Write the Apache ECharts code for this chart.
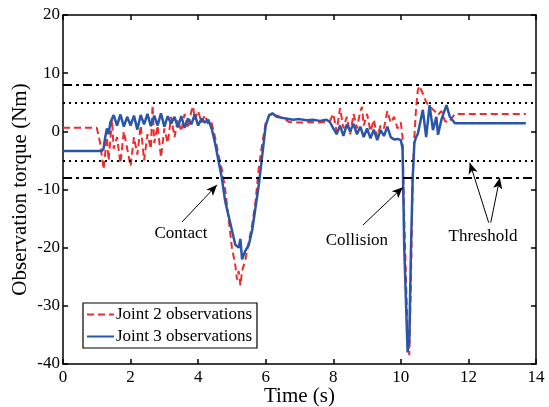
<!DOCTYPE html>
<html>
<head>
<meta charset="utf-8">
<script src="https://cdn.jsdelivr.net/npm/echarts@6/dist/echarts.min.js"></script>
<style>html,body{margin:0;padding:0;background:#fff}#c{width:549px;height:407px}</style>
</head>
<body>
<div id="c"></div>
<script>
// Joint 3 observations (blue, solid)
var j3Time = [0,1.15,1.2,1.25,1.3,1.35,1.4,1.5,1.6,1.7,1.8,1.9,2.0,2.1,2.2,2.3,2.4,2.5,2.6,2.7,2.8,2.9,3.0,3.1,3.2,3.3,3.4,3.5,3.6,3.7,3.8,3.9,4.0,4.1,4.2,4.3,4.4,4.5,4.6,4.7,4.8,4.9,5.0,5.1,5.2,5.25,5.3,5.4,5.5,5.6,5.7,5.8,5.9,6.0,6.1,6.2,6.3,6.4,6.6,6.8,7.0,7.2,7.4,7.6,7.8,7.9,8.0,8.1,8.2,8.3,8.4,8.5,8.6,8.7,8.8,8.9,9.0,9.1,9.2,9.3,9.4,9.5,9.6,9.7,9.8,9.9,10.0,10.05,10.1,10.2,10.25,10.3,10.35,10.4,10.45,10.5,10.65,10.75,10.85,10.95,11.05,11.1,11.2,11.35,11.45,11.6,13.7];
var j3Value = [-3.4,-3.4,-3.0,-1.0,0.5,-0.5,1.5,2.8,1.0,2.9,0.8,2.5,1.0,2.7,0.3,2.8,1.2,3.0,0.9,2.7,1.0,3.1,0.8,2.6,1.3,2.5,0.7,2.6,0.6,2.2,1.2,2.9,1.0,2.2,1.5,2.0,0.5,-2.0,-5.0,-8.0,-12.0,-14.5,-17.0,-19.5,-20.0,-18.5,-22.0,-20.5,-19.5,-17.0,-13.0,-9.0,-4.0,1.0,2.8,3.1,2.6,2.4,2.2,2.0,2.1,1.9,2.0,1.8,2.0,1.6,0.5,-0.5,1.0,-0.8,1.2,0.0,1.3,-0.5,0.8,-1.0,0.5,-1.2,0.3,-1.5,0.2,-0.8,0.8,-1.0,-1.4,-1.3,-1.5,-3.0,-20.0,-38.0,-36.0,-20.0,-8.0,-2.0,-1.0,-0.5,3.7,-1.0,4.5,0.2,2.5,-0.6,2.0,4.5,2.5,1.4,1.4];

// Joint 2 observations (red, dashed)
var j2Time = [0,1.0,1.1,1.2,1.3,1.35,1.45,1.5,1.6,1.7,1.8,1.9,2.0,2.1,2.2,2.3,2.4,2.5,2.6,2.65,2.7,2.8,2.9,3.0,3.1,3.2,3.3,3.4,3.5,3.6,3.7,3.8,3.85,3.9,4.0,4.1,4.2,4.3,4.4,4.5,4.6,4.7,4.8,4.9,5.0,5.1,5.15,5.2,5.25,5.3,5.4,5.5,5.6,5.7,5.8,5.9,6.0,6.1,6.2,6.3,6.5,6.7,7.0,7.3,7.6,7.9,8.0,8.1,8.2,8.3,8.4,8.5,8.6,8.7,8.8,8.85,8.9,9.0,9.1,9.2,9.3,9.4,9.5,9.6,9.7,9.8,9.9,10.0,10.05,10.1,10.2,10.25,10.3,10.35,10.4,10.45,10.5,10.55,10.65,10.75,10.9,11.0,11.1,11.2,11.3,11.4,11.5,11.6,13.7];
var j2Value = [0.6,0.6,-2.0,-6.5,-1.0,-5.0,2.0,-3.0,-1.0,-5.5,0.0,-3.0,-6.0,-1.0,-4.0,1.0,-5.0,-0.5,-3.0,4.5,-2.0,1.0,-4.5,0.5,-2.0,2.5,-1.0,2.0,0.0,3.0,0.5,3.5,4.3,2.0,3.5,1.5,2.8,1.2,1.5,-1.0,-4.0,-6.5,-10.0,-15.0,-20.0,-23.0,-25.5,-24.0,-26.5,-24.0,-22.0,-19.0,-16.0,-12.0,-6.0,-2.0,1.5,2.7,3.0,2.8,2.3,1.6,1.5,1.6,1.5,1.8,3.0,0.0,4.0,0.5,2.5,-0.5,3.0,0.5,3.5,4.2,1.0,3.0,0.0,2.0,-1.0,1.0,0.5,3.5,1.5,2.5,0.5,1.5,-1.0,-15.0,-35.0,-38.5,-25.0,-8.0,-1.0,4.0,7.0,7.8,6.5,5.0,4.0,3.5,2.8,3.5,1.8,1.5,2.2,3.0,3.0];

var collisionThreshold = [8, -8];
var contactThreshold = [5, -5];
var xTicks = [0, 14, 2];
var yTicks = [-40, 20, 10];

var annotations = [
  {text: 'Contact', at: [3.49, -17.6], arrows: [[[3.52, -15.6], [4.56, -9.2]]]},
  {text: 'Collision', at: [8.70, -18.7], arrows: [[[8.88, -16.1], [10.06, -9.6]]]},
  {text: 'Threshold', at: [12.43, -18.0], arrows: [[[12.60, -15.7], [12.04, -5.4]], [[12.66, -15.7], [12.93, -8.0]]]}
];

function pairs(t, v) { return t.map(function (x, i) { return [x, v[i]]; }); }

var FONT = '"Liberation Serif","Times New Roman",serif';
var chart = echarts.init(document.getElementById('c'), null, {renderer: 'canvas'});

var hLines = [];
collisionThreshold.forEach(function (y) {
  hLines.push({yAxis: y, lineStyle: {type: [9, 4, 3, 4], width: 2, color: '#000'}});
});
contactThreshold.forEach(function (y) {
  hLines.push({yAxis: y, lineStyle: {type: [2, 4], width: 2, color: '#000'}});
});
var arrowLines = [];
annotations.forEach(function (a) {
  a.arrows.forEach(function (ar) {
    arrowLines.push([{coord: ar[0], symbol: 'none'}, {coord: ar[1], symbol: 'arrow', symbolSize: [7, 11]}]);
  });
});

var axisCommon = {
  axisLine: {show: true, onZero: false, lineStyle: {color: '#000', width: 1.5}},
  axisTick: {show: true, inside: true, length: 5, lineStyle: {color: '#000', width: 1.5}},
  splitLine: {show: false},
  nameMoveOverlap: false
};

var option = {
  animation: false,
  backgroundColor: '#fff',
  grid: {left: 63, right: 13, top: 15, bottom: 43, containLabel: false, outerBoundsMode: 'none'},
  xAxis: [
    Object.assign({type: 'value', min: xTicks[0], max: xTicks[1], interval: xTicks[2], position: 'bottom',
      name: 'Time (s)', nameLocation: 'middle', nameGap: 22,
      nameTextStyle: {fontFamily: FONT, fontSize: 21, color: '#000'},
      axisLabel: {fontFamily: FONT, fontSize: 17, color: '#000', margin: 5}}, axisCommon),
    Object.assign({type: 'value', min: xTicks[0], max: xTicks[1], interval: xTicks[2], position: 'top',
      axisLabel: {show: false}}, axisCommon)
  ],
  yAxis: [
    Object.assign({type: 'value', min: yTicks[0], max: yTicks[1], interval: yTicks[2], position: 'left',
      name: 'Observation torque (Nm)', nameLocation: 'middle', nameGap: 32,
      nameTextStyle: {fontFamily: FONT, fontSize: 21, color: '#000'},
      axisLabel: {fontFamily: FONT, fontSize: 17, color: '#000', margin: 3}}, axisCommon),
    Object.assign({type: 'value', min: yTicks[0], max: yTicks[1], interval: yTicks[2], position: 'right',
      axisLabel: {show: false}}, axisCommon)
  ],
  legend: {
    data: ['Joint 2 observations', 'Joint 3 observations'],
    orient: 'vertical', left: 83, top: 303,
    backgroundColor: '#fff', borderColor: '#000', borderWidth: 1.2, borderRadius: 0,
    padding: [3, 5, 3, 3], itemGap: 5, itemWidth: 27, itemHeight: 16,
    itemStyle: {opacity: 0},
    textStyle: {fontFamily: FONT, fontSize: 17, color: '#000', padding: [0, 0, 0, -3]}
  },
  series: [
    {
      name: 'thresholds', type: 'line', data: [], silent: true,
      markLine: {silent: true, symbol: 'none', label: {show: false}, animation: false, data: hLines}
    },
    {
      name: 'Joint 2 observations', type: 'line', showSymbol: false, symbol: 'none',
      data: pairs(j2Time, j2Value),
      lineStyle: {color: '#ee2c2c', width: 2, type: [7, 4]}, itemStyle: {color: '#ee2c2c'}, z: 3
    },
    {
      name: 'Joint 3 observations', type: 'line', showSymbol: false, symbol: 'none',
      data: pairs(j3Time, j3Value),
      lineStyle: {color: '#2a56aa', width: 2.5}, itemStyle: {color: '#2a56aa'}, z: 4
    },
    {
      name: 'annotations', type: 'scatter', symbolSize: 0, silent: true,
      itemStyle: {color: '#000', opacity: 1},
      data: annotations.map(function (a) { return {value: a.at, name: a.text}; }),
      label: {show: true, position: 'inside', formatter: '{b}', fontFamily: FONT, fontSize: 17,
        color: '#000', textBorderWidth: 0, opacity: 1},
      markLine: {silent: true, label: {show: false}, animation: false,
        lineStyle: {color: '#000', width: 1, type: 'solid', opacity: 1}, data: arrowLines},
      z: 5
    }
  ]
};
chart.setOption(option);
</script>
</body>
</html>
